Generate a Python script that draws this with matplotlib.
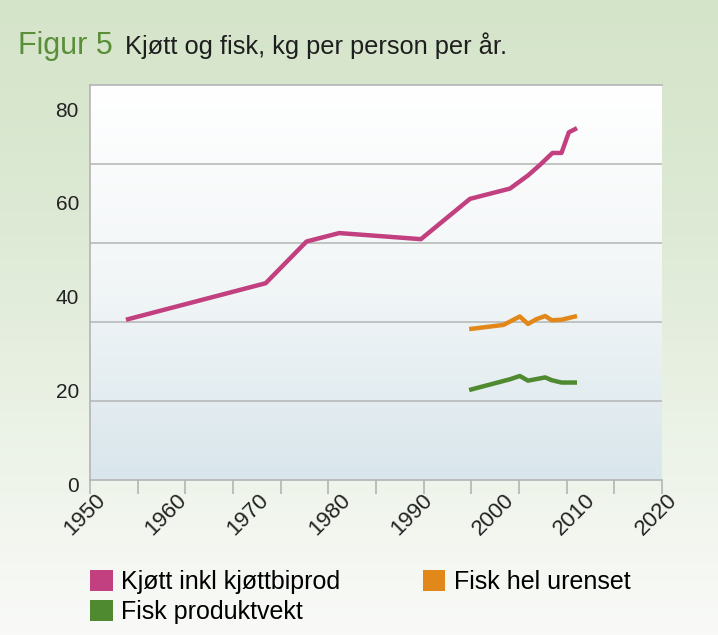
import numpy as np
import matplotlib.pyplot as plt
from matplotlib.patches import Patch
from matplotlib.colors import LinearSegmentedColormap
import matplotlib.transforms as mtransforms

plt.rcParams['font.family'] = ['Liberation Sans', 'DejaVu Sans']

# data
kjott_ar = [1954.4, 1971.5, 1976.5, 1980.5, 1990.5, 1996.5, 2001.4, 2003.6, 2005.1, 2006.6, 2007.7, 2008.6, 2009.6]
kjott = [34.2, 42.0, 50.9, 52.7, 51.4, 60.0, 62.2, 65.0, 67.3, 69.8, 69.8, 74.2, 75.1]

fisk_hel_ar = [1996.4, 2000.6, 2002.6, 2003.6, 2004.6, 2005.7, 2006.5, 2007.7, 2009.6]
fisk_hel = [32.2, 33.1, 34.9, 33.3, 34.3, 35.0, 34.1, 34.2, 35.0]

fisk_prod_ar = [1996.4, 2001.4, 2002.6, 2003.6, 2005.7, 2006.5, 2007.7, 2009.6]
fisk_prod = [19.2, 21.5, 22.2, 21.2, 21.9, 21.3, 20.8, 20.8]

aar_labels = [1950, 1960, 1970, 1980, 1990, 2000, 2010, 2020]
y_labels = [0, 20, 40, 60, 80]
serier = ['Kjøtt inkl kjøttbiprod', 'Fisk hel urenset', 'Fisk produktvekt']
farger = ['#C2407F', '#E2881A', '#4F8A31']

fig = plt.figure(figsize=(7.18, 6.35), dpi=100)

# background gradient for the whole figure
bg = fig.add_axes([0, 0, 1, 1], zorder=-10)
bg_cmap = LinearSegmentedColormap.from_list('bg', ['#D4E4C9', '#DDE9D4', '#EBF2E6', '#F9FAF8'])
bg.imshow(np.linspace(0, 1, 256).reshape(-1, 1), cmap=bg_cmap, aspect='auto', extent=[0, 1, 0, 1])
bg.axis('off')

ax = fig.add_axes([90 / 718, 1 - 480 / 635, 572 / 718, 395 / 635])
ax.patch.set_visible(False)
plot_cmap = LinearSegmentedColormap.from_list('plot', ['#FFFFFF', '#F2F6F7', '#D9E6EC'])
ax.imshow(np.linspace(0, 1, 256).reshape(-1, 1), cmap=plot_cmap, aspect='auto',
          extent=[0, 1, 0, 1], transform=ax.transAxes, zorder=0)

ymax = 84.3
ax.set_xlim(1950, 2020)
ax.set_ylim(0, ymax)

# gridlines split the axis in 5 equal parts (not on the labels)
for g in np.linspace(0, ymax, 6)[1:5]:
    ax.axhline(g, color='#B4B4B4', lw=1.1, zorder=1)

ax.plot(kjott_ar, kjott, color=farger[0], lw=3.2, zorder=3, solid_capstyle='butt')
ax.plot(fisk_hel_ar, fisk_hel, color=farger[1], lw=3.2, zorder=3, solid_capstyle='butt')
ax.plot(fisk_prod_ar, fisk_prod, color=farger[2], lw=3.2, zorder=3, solid_capstyle='butt')

ax.spines['right'].set_visible(False)
for s in ['left', 'bottom', 'top']:
    ax.spines[s].set_color('#B4B4B4')
    ax.spines[s].set_linewidth(1.2)

ax.set_yticks(y_labels)
ax.set_yticklabels([str(v) for v in y_labels], fontsize=15, color='#222222')
ax.tick_params(axis='y', length=0, pad=8)
yoff = mtransforms.ScaledTranslation(0, -4 / 100, fig.dpi_scale_trans)
for lbl in ax.get_yticklabels():
    lbl.set_transform(lbl.get_transform() + yoff)

# tick marks: 13 evenly spaced, labels every 10 years
ax.set_xticks(np.linspace(1950, 2020, 13))
ax.set_xticklabels([])
ax.tick_params(axis='x', which='major', length=10, width=1.2, color='#B4B4B4', direction='out')

# year labels, rotated, right end near the tick
trans = mtransforms.blended_transform_factory(ax.transData, ax.transAxes)
trans = trans + mtransforms.ScaledTranslation(12 / 100, -17 / 100, fig.dpi_scale_trans)
for a in aar_labels:
    ax.text(a, 0, str(a), transform=trans, fontsize=16, color='#222222', rotation=45,
            ha='right', va='center', rotation_mode='anchor', clip_on=False)

# title
fig.text(18 / 718, 1 - 54 / 635, 'Figur 5', fontsize=22, color='#5A8E38', va='baseline')
fig.text(125 / 718, 1 - 54 / 635, 'Kjøtt og fisk, kg per person per år.', fontsize=18.3,
         color='#1E1E1E', va='baseline')

handles = [Patch(facecolor=farger[0]), Patch(facecolor=farger[2]), Patch(facecolor=farger[1])]
labels = [serier[0], serier[2], serier[1]]
fig.legend(handles, labels, ncol=2, loc='upper left', bbox_to_anchor=(80 / 718, 1 - 560 / 635),
           frameon=False, fontsize=18, handlelength=0.9, handleheight=0.9, handletextpad=0.35,
           columnspacing=3.3, labelspacing=0.25, borderaxespad=0)

plt.savefig('out.png', dpi=100)
